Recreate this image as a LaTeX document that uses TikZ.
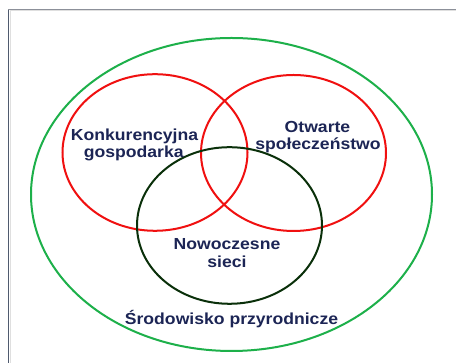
\documentclass[tikz,border=0pt]{standalone}
\usepackage{fontspec}
\newfontfamily\lab[FakeStretch=1.1,BoldFeatures={FakeStretch=1.1}]{Liberation Sans}
\definecolor{navy}{HTML}{1C2555}
\definecolor{vgreen}{HTML}{1DB04A}
\definecolor{vred}{HTML}{F01010}
\definecolor{dkgreen}{HTML}{0A300A}
\definecolor{frameL}{HTML}{4F5A6E}
\definecolor{frameT}{HTML}{8C9099}
\tikzset{
  lbl/.style={font=\lab\bfseries\fontsize{16}{17.5}\selectfont, text=navy, inner sep=0pt, anchor=base},
  ring/.style={line width=2pt}
}
\begin{document}
\begin{tikzpicture}[x=1pt,y=1pt]
\useasboundingbox (0,0) rectangle (456,363);
\fill[white] (0,0) rectangle (456,363);
% frame
\draw[frameL, line width=1.4pt] (8.7,0) -- (8.7,353.5);
\draw[frameT, line width=1.3pt] (8,353.5) -- (456,353.5);
\draw[gray!25, line width=0.8pt] (10.3,0) -- (10.3,352.3) -- (456,352.3);
% circles
\draw[ring, vgreen] (231.5,168.5) ellipse [x radius=200.5, y radius=156.5];
\draw[ring, vred] (155,210.5) ellipse [x radius=92.5, y radius=78.3];
\draw[ring, vred] (293.5,210) ellipse [x radius=92.5, y radius=78];
\draw[ring, dkgreen] (229.5,137.5) ellipse [x radius=92.5, y radius=78.3];
% labels
\node[lbl] (k1) at (134.5,222) {Konkurencyjna};
\node[lbl] (k2) at (133.7,205.5) {gospodarka};
\node[lbl] (o1) at (317.5,230.3) {Otwarte};
\node[lbl] (o2) at (318,213) {społeczeństwo};
\node[lbl] (n1) at (227,113) {Nowoczesne};
\node[lbl] (n2) at (227,95) {sieci};
\node[lbl] (s1) at (231.5,38) {Środowisko przyrodnicze};
\end{tikzpicture}
\end{document}
